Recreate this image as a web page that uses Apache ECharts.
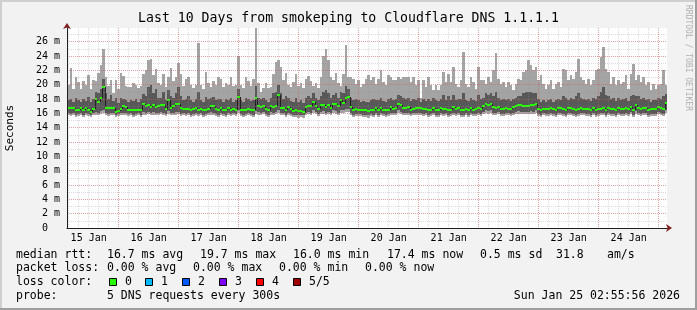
<!DOCTYPE html>
<html><head><meta charset="utf-8">
<script src="https://cdn.jsdelivr.net/npm/echarts@6/dist/echarts.min.js"></script>
<style>html,body{margin:0;padding:0;background:#f2f2f2}#c{width:697px;height:310px}</style>
</head><body><div id="c"></div>
<script>
const chartTitle = 'Last 10 Days from smokeping to Cloudflare DNS 1.1.1.1';
const monthNames = ['Jan','Feb','Mar','Apr','May','Jun','Jul','Aug','Sep','Oct','Nov','Dec'];
const HOUR = 3600000;
const startTs = new Date(2026, 0, 15, 3, 20, 0).getTime();
const endTs = startTs + 240 * HOUR;

// outer smoke top (slowest ping, ms)
const pingMax = [
20.0,22.3,19.4,21.0,20.4,19.4,20.5,20.0,21.4,19.4,20.6,20.5,21.6,22.8,25.0,21.0,19.8,20.6,18.8,20.7,19.4,21.6,21.2,19.8,
19.6,19.7,20.2,20.0,19.5,19.8,21.5,22.0,23.5,23.6,21.3,22.2,20.2,20.0,21.5,19.6,21.0,22.3,20.5,21.0,23.0,21.5,19.8,20.8,
21.0,20.0,19.5,20.0,25.8,20.0,19.4,21.7,20.2,19.6,20.5,20.0,21.0,20.8,19.6,20.2,20.0,21.0,19.8,20.0,24.0,20.0,19.5,21.0,
20.5,19.8,20.8,27.9,20.2,19.0,19.5,20.2,19.5,19.7,21.5,23.2,23.5,22.5,20.6,21.6,20.0,19.6,20.4,21.5,19.8,20.2,19.5,20.8,
21.2,20.5,19.8,20.2,19.5,21.0,24.0,25.0,23.5,21.0,20.6,21.6,20.2,19.8,21.5,25.5,21.0,21.0,20.8,20.1,20.6,19.6,20.1,20.8,
21.3,20.6,21.0,20.1,20.8,22.0,20.3,19.9,21.3,21.0,20.6,20.7,21.1,20.8,21.1,21.0,21.0,20.3,21.0,19.9,20.6,18.2,20.6,19.6,
21.0,19.9,19.2,19.9,19.2,19.9,21.8,20.3,21.5,20.3,22.5,20.1,19.6,20.6,24.6,20.1,19.6,21.0,20.3,19.4,22.5,20.6,20.6,20.1,
21.0,20.3,22.0,24.4,20.8,20.1,20.3,19.6,20.3,19.9,19.2,20.1,20.8,20.6,21.8,22.0,23.4,22.7,22.0,22.5,20.6,21.3,20.1,19.4,
19.9,20.6,19.4,20.1,20.3,19.6,22.2,22.0,20.6,21.3,20.8,21.8,23.6,21.0,20.6,20.1,20.8,19.9,20.6,22.0,22.2,23.9,25.3,22.2,
21.8,20.1,21.0,19.9,20.6,20.1,20.3,21.3,19.4,21.5,22.9,20.6,21.3,20.3,21.0,19.9,20.3,19.2,20.1,19.4,19.9,20.1,22.0,19.9
];
// inner smoke top (4th ping)
const pingP4 = [
17.8,18.0,17.6,18.2,17.8,17.6,18.0,17.7,18.3,17.6,18.0,19.0,18.8,19.4,20.8,18.9,18.0,18.6,17.7,18.2,17.4,18.2,18.0,17.8,
17.6,17.8,17.7,18.0,17.6,18.0,18.7,18.4,19.7,19.9,18.8,19.4,18.2,18.2,19.0,17.8,19.2,18.4,18.2,18.8,19.6,18.4,17.8,18.0,
18.4,17.8,17.6,18.0,19.0,17.8,17.6,18.3,18.0,18.2,18.3,17.8,18.0,18.0,17.6,18.0,17.9,18.2,17.6,17.8,19.4,17.8,17.6,18.2,
18.0,17.7,17.9,19.8,18.2,18.0,18.2,17.8,17.6,18.2,18.8,19.0,20.0,18.8,18.0,18.4,18.2,17.7,17.6,18.2,17.6,17.8,17.5,18.2,
18.4,18.2,18.8,18.2,17.8,18.4,19.0,19.2,18.8,18.2,18.6,18.8,18.2,19.0,18.8,19.8,19.4,18.2,17.8,18.0,17.8,17.6,17.7,17.6,
17.6,17.8,18.0,17.8,17.9,18.2,17.7,17.6,18.0,18.2,17.9,18.0,18.6,18.4,18.2,18.0,18.2,17.7,18.0,17.8,18.2,17.6,18.0,17.7,
18.0,17.7,18.2,17.8,17.7,18.0,18.6,17.9,18.4,17.8,18.6,17.8,18.0,18.0,18.8,17.8,17.7,18.2,17.8,17.7,18.6,18.0,18.2,18.8,
18.6,18.8,18.4,19.0,18.2,17.8,18.0,17.8,18.0,17.7,18.0,18.2,18.4,18.4,18.8,19.0,19.0,19.0,18.8,18.8,18.0,17.6,17.8,17.6,
17.8,18.0,17.6,17.8,18.0,17.8,18.4,18.2,17.8,18.2,18.0,18.4,18.8,18.2,18.0,17.8,18.0,17.7,18.2,18.0,18.4,19.0,19.6,18.6,
18.4,18.0,18.2,17.7,18.2,17.8,18.0,18.2,17.7,18.4,18.6,18.4,18.4,18.0,18.2,17.8,18.0,17.6,17.8,17.8,18.2,18.0,18.4,18.7
];
// median rtt
const pingMedian = [
16.7,16.7,16.7,16.5,16.5,16.7,16.4,16.7,16.4,16.2,16.6,18.0,17.6,18.2,19.7,16.7,16.7,16.7,16.7,16.2,16.3,16.6,17.0,16.9,
16.5,16.5,16.4,16.5,16.5,16.4,17.3,17.0,17.2,16.9,17.2,16.9,17.0,17.1,17.1,16.6,17.9,16.8,17.0,17.3,17.3,16.7,16.6,16.6,
16.6,16.4,16.6,16.7,16.5,16.6,16.4,16.4,16.6,17.0,17.0,16.6,16.4,16.7,16.5,16.4,16.7,16.4,16.6,16.5,18.3,16.5,16.4,16.5,
16.6,16.5,16.4,18.1,17.0,16.9,17.0,16.6,16.4,17.0,16.9,17.0,18.6,16.7,16.8,16.4,16.9,16.6,16.3,16.4,16.3,16.3,16.2,16.9,
17.0,17.0,17.6,17.0,16.6,17.1,17.1,16.9,17.1,16.8,17.3,17.3,17.0,17.9,17.5,18.1,18.3,16.9,16.4,16.6,16.5,16.5,16.4,16.4,
16.3,16.5,16.5,16.7,16.4,16.7,16.5,16.5,16.5,16.9,16.6,16.8,17.3,17.1,16.8,16.7,16.9,16.5,16.6,16.7,16.8,16.7,16.6,16.6,
16.4,16.5,16.8,16.5,16.4,16.7,16.6,16.6,16.4,16.5,16.9,16.6,16.8,16.5,16.4,16.6,16.4,16.7,16.5,16.6,16.8,16.6,17.0,17.3,
17.2,17.3,16.9,16.8,16.9,16.6,16.6,16.8,16.6,16.6,16.9,17.0,17.2,17.1,17.0,17.0,17.0,17.2,17.1,17.3,16.6,16.5,16.6,16.6,
16.6,16.8,16.6,16.5,16.7,16.8,16.6,16.5,16.7,16.7,16.6,16.4,16.6,16.8,16.6,16.6,16.6,16.5,16.8,16.5,16.6,16.6,16.8,16.5,
16.7,16.6,16.6,16.5,16.8,16.6,16.6,16.7,16.6,16.9,16.5,17.1,16.7,16.6,16.7,16.7,16.5,16.6,16.6,16.6,16.9,16.7,16.6,17.4
];
// inner smoke bottom (2nd ping)
const pingP2 = [
16.0,15.9,16.0,15.8,15.9,16.0,15.8,16.0,15.9,15.8,16.0,16.2,16.1,16.3,16.5,16.0,15.9,16.0,16.0,15.8,15.9,16.0,16.1,16.0,
15.9,16.0,15.8,15.9,16.0,15.8,16.2,16.1,16.2,16.0,16.2,16.0,16.1,16.2,16.0,15.9,16.3,16.0,16.1,16.2,16.2,15.9,16.0,15.9,
16.0,15.8,15.9,16.0,15.9,16.0,15.8,15.9,16.0,16.2,16.1,15.9,15.8,16.0,15.9,15.8,16.0,15.9,16.0,15.9,16.4,15.9,15.8,15.9,
16.0,15.9,15.8,16.3,16.2,16.1,16.2,15.9,15.8,16.2,16.1,16.2,16.4,16.0,16.1,15.8,16.1,15.9,15.8,15.8,15.7,15.8,15.7,16.1,
16.2,16.1,16.4,16.2,15.9,16.2,16.3,16.1,16.2,16.0,16.4,16.3,16.1,16.5,16.4,16.6,16.6,16.1,15.8,15.9,15.9,15.9,15.8,15.8,
15.7,15.9,15.8,16.0,15.8,16.0,15.9,15.8,15.9,16.1,16.0,16.1,16.4,16.2,16.1,16.0,16.1,15.9,16.0,16.0,16.1,16.0,15.9,16.0,
15.8,15.9,16.1,15.8,15.8,16.0,15.9,16.0,15.8,15.9,16.1,15.9,16.1,15.8,15.8,16.0,15.8,16.0,15.9,15.9,16.1,15.9,16.2,16.4,
16.3,16.4,16.1,16.0,16.2,15.9,15.9,16.1,16.0,15.9,16.1,16.2,16.3,16.2,16.2,16.2,16.2,16.3,16.2,16.4,15.9,15.8,16.0,15.9,
15.9,16.1,15.9,15.8,16.0,16.1,15.9,15.8,16.0,16.0,15.9,15.8,15.9,16.1,16.0,15.9,15.9,15.8,16.1,15.8,15.9,16.0,16.1,15.8,
16.0,15.9,15.9,15.8,16.1,15.9,15.9,16.0,15.9,16.2,15.8,16.3,16.0,15.9,16.0,16.0,15.8,15.9,15.9,15.9,16.2,16.0,15.9,16.5
];
// outer smoke bottom (fastest ping)
const pingMin = [
15.7,15.6,15.7,15.5,15.6,15.7,15.5,15.7,15.6,15.5,15.7,15.8,15.8,15.9,16.0,15.7,15.6,15.7,15.7,15.5,15.6,15.7,15.8,15.7,
15.6,15.7,15.5,15.6,15.7,15.5,15.8,15.8,15.9,15.7,15.8,15.7,15.8,15.9,15.7,15.6,15.9,15.7,15.8,15.8,15.9,15.6,15.7,15.6,
15.7,15.5,15.6,15.7,15.6,15.7,15.5,15.6,15.7,15.8,15.8,15.6,15.5,15.7,15.6,15.5,15.7,15.6,15.7,15.6,16.0,15.6,15.5,15.6,
15.7,15.6,15.5,15.9,15.8,15.8,15.9,15.6,15.5,15.8,15.8,15.9,16.0,15.7,15.8,15.5,15.8,15.6,15.5,15.5,15.4,15.5,15.4,15.8,
15.9,15.8,16.0,15.9,15.6,15.9,15.9,15.8,15.9,15.7,16.0,15.9,15.8,16.1,16.0,16.2,16.2,15.8,15.5,15.6,15.6,15.6,15.5,15.5,
15.4,15.6,15.5,15.7,15.5,15.7,15.6,15.5,15.6,15.8,15.7,15.8,16.0,15.9,15.8,15.7,15.8,15.6,15.7,15.7,15.8,15.7,15.6,15.7,
15.5,15.6,15.8,15.5,15.5,15.7,15.6,15.7,15.5,15.6,15.8,15.6,15.8,15.5,15.5,15.7,15.5,15.7,15.6,15.6,15.8,15.6,15.9,16.0,
15.9,16.0,15.8,15.7,15.9,15.6,15.6,15.8,15.7,15.6,15.8,15.9,15.9,15.9,15.9,15.9,15.9,15.9,15.9,16.0,15.6,15.5,15.7,15.6,
15.6,15.8,15.6,15.5,15.7,15.8,15.6,15.5,15.7,15.7,15.6,15.5,15.6,15.8,15.7,15.6,15.6,15.5,15.8,15.5,15.6,15.7,15.8,15.5,
15.7,15.6,15.6,15.5,15.8,15.6,15.6,15.7,15.6,15.9,15.5,15.9,15.7,15.6,15.7,15.7,15.5,15.6,15.6,15.6,15.9,15.7,15.6,16.1
];

// legend texts (rows of fields)
const legendTexts = [
  ['median rtt:', '16.7 ms avg', '19.7 ms max', '16.0 ms min', '17.4 ms now', '0.5 ms sd', '31.8', 'am/s'],
  ['packet loss:', '0.00 % avg', '0.00 % max', '0.00 % min', '0.00 % now'],
  ['loss color:'],
  ['probe:', '5 DNS requests every 300s']
];
const lossLabels = ['0', '1', '2', '3', '4', '5/5'];
const lossColors = ['#26ff00', '#00b8ff', '#0059ff', '#7e00ff', '#ff0000', '#a10000'];
const stampText = 'Sun Jan 25 02:55:56 2026';
const yAxisName = 'Seconds';
const watermark = 'RRDTOOL / TOBI OETIKER';

// layout (positions only)
const legendFieldX = [
  [16, 107, 200, 293, 387, 480, 556, 607],
  [16, 107, 193, 279, 365],
  [16],
  [16, 107]
];
const rowY = [255, 268.5, 282.3, 296];

const MONO = "'DejaVu Sans Mono', monospace";
const seriesData = pingMedian.map((m, i) => [startTs + i * HOUR, pingMin[i], pingP2[i], m, pingP4[i], pingMax[i], i > 0 ? pingMedian[i - 1] : m]);

function renderSmoke(params, api) {
  const t = api.value(0);
  const x0 = Math.round(api.coord([t, 0])[0]);
  const x1 = Math.round(api.coord([t + HOUR, 0])[0]);
  const Y = v => Math.round(api.coord([t, v])[1]);
  const yMin = Y(api.value(1)), yP2 = Y(api.value(2)), yMed = Y(api.value(3)), yP4 = Y(api.value(4)), yMax = Y(api.value(5)), yPrev = Y(api.value(6));
  const w = x1 - x0;
  return {
    type: 'group',
    children: [
      { type: 'rect', shape: { x: x0, y: yMax, width: w, height: yMin - yMax }, style: { fill: '#a4a4a4' } },
      { type: 'rect', shape: { x: x0, y: yP4, width: w, height: yP2 - yP4 }, style: { fill: '#585858' } },
      { type: 'line', shape: { x1: x0 + 0.5, y1: yPrev, x2: x0 + 0.5, y2: yMed }, style: { stroke: '#202020', lineWidth: 1 } },
      { type: 'rect', shape: { x: x0, y: yMed - 1, width: w, height: 2 }, style: { fill: lossColors[0] } }
    ]
  };
}

const graphics = [
  { type: 'rect', shape: { x: 0, y: 0, width: 697, height: 2 }, style: { fill: '#cfcfcf' } },
  { type: 'rect', shape: { x: 0, y: 0, width: 2, height: 310 }, style: { fill: '#cfcfcf' } },
  { type: 'rect', shape: { x: 0, y: 308, width: 697, height: 2 }, style: { fill: '#9e9e9e' } },
  { type: 'rect', shape: { x: 695, y: 0, width: 2, height: 310 }, style: { fill: '#9e9e9e' } },
  { type: 'text', x: 348.5, y: 19, style: { text: chartTitle, font: '13.2px ' + MONO, fill: '#000', textAlign: 'center', textVerticalAlign: 'middle' } },
  { type: 'text', x: 10, y: 128, rotation: Math.PI / 2, style: { text: yAxisName, font: '11px ' + MONO, fill: '#000', textAlign: 'center', textVerticalAlign: 'middle' } },
  { type: 'text', x: 688, y: 58, rotation: -Math.PI / 2, style: { text: watermark, font: '8px ' + MONO, fill: '#b0b0b0', textAlign: 'center', textVerticalAlign: 'middle' } },
  { type: 'text', x: 680, y: rowY[3], style: { text: stampText, font: '11.5px ' + MONO, fill: '#000', textAlign: 'right', textVerticalAlign: 'middle' } }
];
legendTexts.forEach((row, k) => {
  row.forEach((txt, j) => {
    graphics.push({ type: 'text', x: legendFieldX[k][j], y: rowY[k], style: { text: txt, font: '11.5px ' + MONO, fill: '#000', textAlign: 'left', textVerticalAlign: 'middle' } });
  });
});
lossLabels.forEach((lab, k) => {
  const bx = Math.round(108.5 + k * 36.8);
  graphics.push({ type: 'rect', shape: { x: bx + 0.5, y: 278.5, width: 7, height: 7 }, style: { fill: lossColors[k], stroke: '#000', lineWidth: 1 } });
  graphics.push({ type: 'text', x: bx + 16, y: rowY[2], style: { text: lab, font: '11.5px ' + MONO, fill: '#000', textAlign: 'left', textVerticalAlign: 'middle' } });
});

const majorLine = { show: true, showMinLine: false, showMaxLine: false, lineStyle: { color: 'rgba(222,79,79,0.38)', width: 1, type: [1, 1] } };
const minorLine = { show: true, showMinLine: false, showMaxLine: false, lineStyle: { color: 'rgba(143,143,143,0.32)', width: 1, type: [1, 1] } };

const chart = echarts.init(document.getElementById('c'), null, { width: 697, height: 310, renderer: 'canvas' });
chart.setOption({
  animation: false,
  backgroundColor: '#f2f2f2',
  grid: { left: 67, top: 28, width: 600, height: 200, show: true, backgroundColor: '#ffffff', borderWidth: 0, containLabel: false, outerBoundsMode: 'none' },
  xAxis: [
    { type: 'time', min: startTs, max: endTs, minInterval: 24 * HOUR, maxInterval: 24 * HOUR, z: 5,
      axisLine: { show: true, lineStyle: { color: '#1f1f1f', width: 1 } }, axisTick: { show: false }, axisLabel: { show: false },
      splitLine: majorLine },
    { type: 'time', min: startTs, max: endTs, minInterval: 6 * HOUR, maxInterval: 6 * HOUR, z: 4, position: 'bottom', offset: 0,
      axisLine: { show: true, symbol: ['none', 'arrow'], symbolSize: [6, 6], symbolOffset: [0, 5], lineStyle: { color: '#801f1f', width: 0 } },
      axisTick: { show: false }, axisLabel: { show: false }, splitLine: minorLine },
    { type: 'time', min: startTs - 12 * HOUR, max: endTs - 12 * HOUR, minInterval: 24 * HOUR, maxInterval: 24 * HOUR, z: 5, position: 'bottom', offset: 0,
      axisLine: { show: false }, axisTick: { show: false }, splitLine: { show: false },
      axisLabel: { show: true, margin: 5, fontFamily: MONO, fontSize: 10, color: '#000', hideOverlap: false,
        formatter: v => { const d = new Date(v); return (d.getHours() === 0 && d.getMinutes() === 0) ? d.getDate() + ' ' + monthNames[d.getMonth()] : ''; } } }
  ],
  yAxis: [
    { type: 'value', min: 0, max: 27.9, interval: 2, z: 5,
      axisLine: { show: true, lineStyle: { color: '#1f1f1f', width: 1 } },
      axisTick: { show: false },
      axisLabel: { show: true, margin: 7, fontFamily: MONO, fontSize: 10, color: '#000', showMaxLabel: false,
        formatter: v => v === 0 ? '0  ' : (Math.abs(v % 2) < 1e-9 ? v + ' m' : '') },
      splitLine: majorLine },
    { type: 'value', min: 0, max: 27.9, interval: 1, z: 4, position: 'left', offset: 0,
      axisLine: { show: true, symbol: ['none', 'arrow'], symbolSize: [6, 6], symbolOffset: [0, 5], lineStyle: { color: '#801f1f', width: 0 } },
      axisTick: { show: false }, axisLabel: { show: false }, splitLine: minorLine }
  ],
  series: [{
    type: 'custom', xAxisIndex: 0, yAxisIndex: 0, z: 1, silent: true, clip: true,
    renderItem: renderSmoke, encode: { x: 0, y: [1, 2, 3, 4, 5] }, data: seriesData
  }],
  graphic: graphics
});
</script></body></html>
